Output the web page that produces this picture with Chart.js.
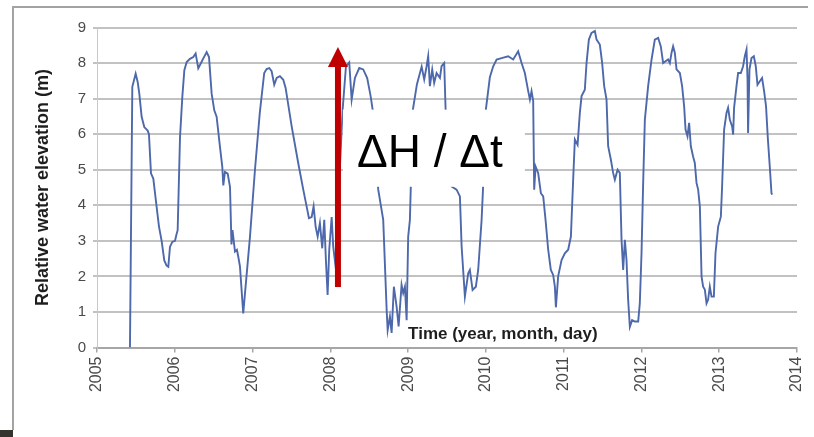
<!DOCTYPE html>
<html>
<head>
<meta charset="utf-8">
<script src="https://cdn.jsdelivr.net/npm/chart.js@4"></script>
<style>
  html, body { margin: 0; padding: 0; background: #fff; }
  #wrap { position: relative; width: 814px; height: 437px; }
</style>
</head>
<body>
<div id="wrap"><canvas id="levelChart"></canvas></div>
<script>
// axis ticks
const yearTicks = [2005, 2006, 2007, 2008, 2009, 2010, 2011, 2012, 2013, 2014];
const levelTicks = [0, 1, 2, 3, 4, 5, 6, 7, 8, 9];

// measured series (decimal year, relative water elevation in m)
const years = [
  2005.424, 2005.454, 2005.497, 2005.523, 2005.544, 2005.574, 2005.608, 2005.651, 2005.668, 2005.694,
  2005.724, 2005.767, 2005.797, 2005.831, 2005.865, 2005.895, 2005.917, 2005.938, 2005.968, 2006.003,
  2006.024, 2006.037, 2006.067, 2006.097, 2006.123, 2006.153, 2006.195, 2006.238, 2006.268, 2006.302,
  2006.337, 2006.367, 2006.410, 2006.440, 2006.474, 2006.508, 2006.538, 2006.581, 2006.611, 2006.624,
  2006.645, 2006.680, 2006.710, 2006.729, 2006.742, 2006.774, 2006.799, 2006.816, 2006.838, 2006.880,
  2006.967, 2007.031, 2007.093, 2007.150, 2007.181, 2007.215, 2007.245, 2007.279, 2007.310, 2007.352,
  2007.395, 2007.425, 2007.503, 2007.587, 2007.652, 2007.695, 2007.725, 2007.760, 2007.785, 2007.811,
  2007.837, 2007.866, 2007.896, 2007.922, 2007.943, 2007.965, 2007.986, 2008.017, 2008.037, 2008.072,
  2008.111, 2008.158, 2008.201, 2008.243, 2008.274, 2008.316, 2008.372, 2008.423, 2008.474, 2008.518,
  2008.544, 2008.616, 2008.659, 2008.680, 2008.724, 2008.737, 2008.766, 2008.788, 2008.817, 2008.852,
  2008.878, 2008.916, 2008.937, 2008.959, 2008.981, 2009.001, 2009.023, 2009.062, 2009.113, 2009.174,
  2009.207, 2009.238, 2009.258, 2009.280, 2009.310, 2009.335, 2009.366, 2009.409, 2009.430, 2009.464,
  2009.482, 2009.559, 2009.623, 2009.666, 2009.688, 2009.730, 2009.773, 2009.794, 2009.829, 2009.871,
  2009.901, 2009.945, 2009.974, 2010.000, 2010.051, 2010.094, 2010.138, 2010.202, 2010.287, 2010.351,
  2010.415, 2010.459, 2010.501, 2010.544, 2010.566, 2010.587, 2010.608, 2010.621, 2010.639, 2010.672,
  2010.707, 2010.737, 2010.767, 2010.801, 2010.835, 2010.865, 2010.887, 2010.900, 2010.929, 2010.973,
  2011.015, 2011.058, 2011.093, 2011.122, 2011.144, 2011.179, 2011.208, 2011.230, 2011.272, 2011.294,
  2011.324, 2011.358, 2011.401, 2011.423, 2011.465, 2011.495, 2011.521, 2011.551, 2011.572, 2011.607,
  2011.636, 2011.658, 2011.693, 2011.722, 2011.744, 2011.765, 2011.787, 2011.808, 2011.829, 2011.851,
  2011.880, 2011.915, 2011.958, 2011.979, 2012.001, 2012.021, 2012.044, 2012.086, 2012.130, 2012.172,
  2012.215, 2012.249, 2012.279, 2012.310, 2012.343, 2012.365, 2012.387, 2012.407, 2012.429, 2012.451,
  2012.494, 2012.523, 2012.549, 2012.567, 2012.592, 2012.613, 2012.635, 2012.664, 2012.686, 2012.708,
  2012.729, 2012.751, 2012.773, 2012.793, 2012.815, 2012.837, 2012.857, 2012.879, 2012.901, 2012.931,
  2012.952, 2012.986, 2013.021, 2013.037, 2013.063, 2013.094, 2013.114, 2013.136, 2013.166, 2013.179,
  2013.191, 2013.222, 2013.243, 2013.278, 2013.307, 2013.329, 2013.351, 2013.364, 2013.371, 2013.389,
  2013.415, 2013.445, 2013.470, 2013.492, 2013.522, 2013.551, 2013.577, 2013.602, 2013.626, 2013.650,
  2013.672, 2013.680
];
const levels = [
  0.00, 7.33, 7.70, 7.47, 7.14, 6.49, 6.20, 6.10, 6.00, 4.90,
  4.75, 3.95, 3.40, 3.00, 2.45, 2.30, 2.27, 2.83, 2.97, 3.00,
  3.20, 3.30, 5.90, 7.05, 7.80, 8.03, 8.12, 8.17, 8.27, 7.85,
  8.00, 8.13, 8.31, 8.17, 7.14, 6.67, 6.49, 5.64, 5.08, 4.56,
  4.94, 4.89, 4.52, 2.90, 3.30, 2.70, 2.75, 2.56, 2.28, 0.96,
  3.12, 5.00, 6.60, 7.72, 7.83, 7.86, 7.77, 7.39, 7.58, 7.63,
  7.53, 7.30, 6.22, 5.19, 4.44, 3.97, 3.64, 3.67, 3.97, 3.40,
  3.12, 3.50, 2.79, 3.59, 2.46, 1.48, 2.75, 3.67, 2.84, 2.20,
  4.50, 6.69, 7.91, 8.02, 6.97, 7.58, 7.86, 7.82, 7.58, 7.07,
  6.69, 4.44, 3.87, 3.59, 1.06, 0.49, 0.87, 0.41, 1.71, 1.15,
  0.59, 1.76, 1.53, 1.71, 0.77, 3.12, 3.59, 6.70, 7.40, 7.90,
  7.54, 7.91, 8.19, 7.35, 7.82, 7.44, 7.72, 7.58, 7.91, 8.00,
  6.69, 4.53, 4.44, 4.25, 2.84, 1.43, 2.09, 2.18, 1.62, 1.71,
  2.18, 3.59, 5.00, 6.70, 7.60, 7.91, 8.10, 8.14, 8.19, 8.10,
  8.33, 8.00, 7.72, 7.21, 6.97, 7.21, 6.94, 4.44, 5.09, 4.91,
  4.34, 4.25, 3.59, 2.75, 2.18, 2.04, 1.71, 1.13, 2.00, 2.46,
  2.65, 2.75, 3.12, 4.72, 5.85, 5.70, 6.60, 7.07, 7.25, 8.00,
  8.66, 8.85, 8.90, 8.66, 8.52, 8.00, 7.35, 6.97, 5.66, 5.28,
  4.91, 4.72, 5.00, 4.91, 3.03, 2.18, 3.03, 2.46, 1.34, 0.58,
  0.77, 0.73, 0.73, 1.24, 2.65, 4.53, 6.41, 7.35, 8.10, 8.66,
  8.71, 8.47, 8.00, 8.05, 8.10, 8.00, 8.29, 8.47, 8.29, 7.82,
  7.72, 7.35, 6.78, 6.13, 5.94, 6.32, 5.66, 5.37, 5.19, 4.63,
  4.44, 3.97, 1.99, 1.71, 1.63, 1.24, 1.34, 1.71, 1.43, 1.43,
  2.65, 3.40, 3.68, 4.53, 6.13, 6.60, 6.74, 6.41, 6.22, 5.99,
  6.74, 7.35, 7.72, 7.72, 7.91, 8.19, 8.38, 7.54, 6.03, 7.82,
  8.14, 8.19, 7.91, 7.39, 7.49, 7.58, 7.21, 6.78, 5.85, 5.09,
  4.34, 4.30
];

// annotation: red arrow and the ΔH / Δt label (in axis units)
const arrowYear = 2008.098;
const arrowLevels = [1.70, 8.45];
const boxYears = [2008.162, 2010.501];
const boxLevels = [4.52, 6.69];

const fontFamily = '"Liberation Sans", Arial, Helvetica, sans-serif';

const decorations = {
    id: 'decorations',
    beforeDraw(chart) {
        const c = chart.ctx;
        c.save();
        c.fillStyle = '#fff';
        c.fillRect(0, 0, chart.width, chart.height);
        // outer frame (top and left edges only)
        c.strokeStyle = '#a3a3a3';
        c.lineWidth = 2;
        c.beginPath();
        c.moveTo(13, 430);
        c.lineTo(13, 7);
        c.lineTo(808, 7);
        c.stroke();
        c.fillStyle = '#34332e';
        c.fillRect(0, 430, 13, 7);
        c.restore();
    },
    afterDraw(chart) {
        const c = chart.ctx;
        const { x, y } = chart.scales;
        c.save();
        // x-axis title sits inside the plot
        c.font = 'bold 17px ' + fontFamily;
        c.fillStyle = '#1e1e1e';
        c.textBaseline = 'middle';
        c.textAlign = 'left';
        c.fillText('Time (year, month, day)', x.getPixelForValue(2009), 334);

        // red arrow
        const ax = x.getPixelForValue(arrowYear);
        const yBot = y.getPixelForValue(arrowLevels[0]);
        const yTip = y.getPixelForValue(arrowLevels[1]);
        c.fillStyle = '#c00000';
        c.fillRect(ax - 3, yTip + 18, 6, yBot - yTip - 18);
        c.beginPath();
        c.moveTo(ax, yTip);
        c.lineTo(ax + 10, yTip + 20);
        c.lineTo(ax - 10, yTip + 20);
        c.closePath();
        c.fill();

        // white label box
        const bx0 = x.getPixelForValue(boxYears[0]);
        const bx1 = x.getPixelForValue(boxYears[1]);
        const by0 = y.getPixelForValue(boxLevels[1]);
        const by1 = y.getPixelForValue(boxLevels[0]);
        c.fillStyle = '#fff';
        c.fillRect(bx0, by0, bx1 - bx0, by1 - by0);
        c.fillStyle = '#000';
        c.font = '46px ' + fontFamily;
        c.textBaseline = 'alphabetic';
        c.fillText('\u0394H / \u0394t', bx0 + 14, by0 + 57);
        c.restore();
    }
};

const ctx = document.getElementById('levelChart').getContext('2d');
new Chart(ctx, {
    type: 'line',
    data: {
        datasets: [{
            data: years.map((yr, i) => ({ x: yr, y: levels[i] })),
            borderColor: '#4d68ab',
            borderWidth: 1.9,
            pointRadius: 0,
            tension: 0,
            fill: false
        }]
    },
    options: {
        responsive: true,
        maintainAspectRatio: false,
        devicePixelRatio: 1,
        animation: false,
        layout: { padding: { left: 0, right: 17, top: 27.5, bottom: 0 } },
        plugins: {
            legend: { display: false },
            tooltip: { enabled: false }
        },
        scales: {
            x: {
                type: 'linear',
                min: 2005,
                max: 2014,
                afterBuildTicks: s => { s.ticks = yearTicks.map(v => ({ value: v })); },
                afterFit: s => {
                    s.height = 89.5;
                    s.paddingLeft = 0;
                    s.paddingRight = 0;
                },
                grid: { drawOnChartArea: false, tickLength: 5, color: '#a6a6a6', lineWidth: 1.5 },
                border: { color: '#a6a6a6', width: 2 },
                ticks: {
                    minRotation: 90,
                    maxRotation: 90,
                    padding: 4,
                    color: '#4a4a4a',
                    font: { size: 16, family: fontFamily },
                    callback: v => String(v)
                }
            },
            y: {
                min: 0,
                max: 9,
                afterBuildTicks: s => { s.ticks = levelTicks.map(v => ({ value: v })); },
                afterFit: s => {
                    s.width = 97;
                    s.paddingTop = 0;
                    s.paddingBottom = 0;
                },
                grid: { color: '#c2c2c2', lineWidth: 2, tickLength: 4 },
                border: { color: '#c8c8c8', width: 1 },
                ticks: {
                    padding: 7,
                    color: '#4a4a4a',
                    font: { size: 15, family: fontFamily }
                },
                title: {
                    display: true,
                    text: 'Relative water elevation (m)',
                    color: '#1e1e1e',
                    font: { size: 18, weight: 'bold', family: fontFamily },
                    padding: { top: 32, bottom: 0 }
                }
            }
        }
    },
    plugins: [decorations]
});
</script>
</body>
</html>
